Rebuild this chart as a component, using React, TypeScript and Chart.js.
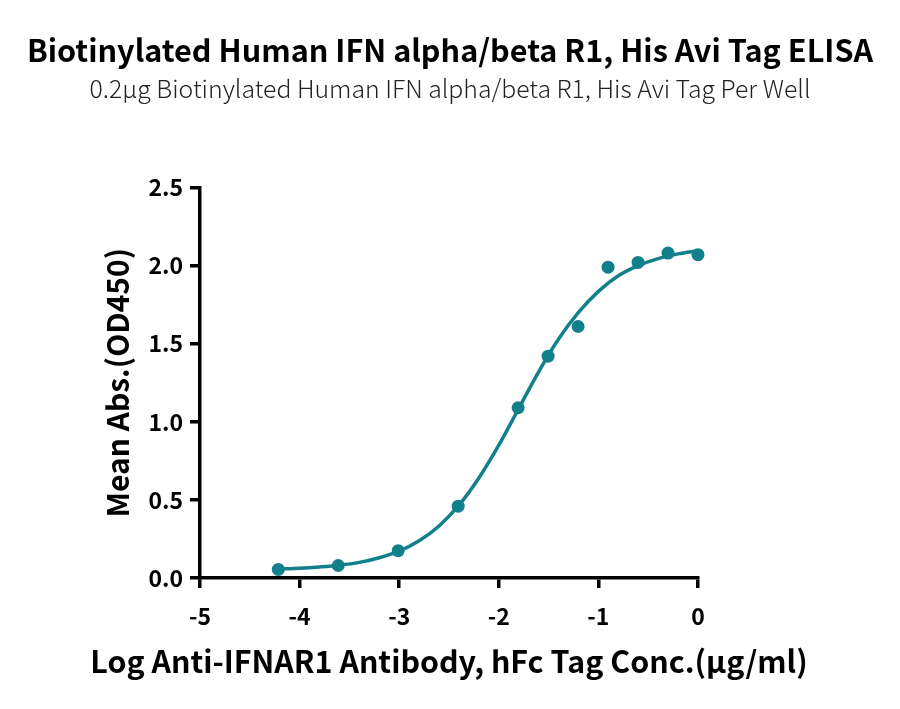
import { useEffect, useRef } from 'react';
import { Chart, registerables, type ChartOptions, type Plugin } from 'chart.js';

Chart.register(...registerables);

// measured points (log conc, OD450)
const logConc = [-4.214, -3.612, -3.01, -2.408, -1.806, -1.505, -1.204, -0.903, -0.602, -0.301, 0];
const meanAbs = [0.055, 0.08, 0.175, 0.46, 1.09, 1.42, 1.61, 1.99, 2.02, 2.08, 2.07];

// fitted curve
const fitX = [-4.214, -4.0, -3.8, -3.6, -3.4, -3.2, -3.0, -2.8, -2.6, -2.4, -2.2, -2.0, -1.8, -1.6, -1.4, -1.2, -1.0, -0.8, -0.6, -0.4, -0.2, 0];
const fitY = [0.058, 0.063, 0.071, 0.082, 0.1, 0.13, 0.172, 0.238, 0.333, 0.466, 0.64, 0.85, 1.085, 1.32, 1.53, 1.7, 1.835, 1.935, 2.0, 2.045, 2.075, 2.095];

const xTicks = [-5, -4, -3, -2, -1, 0];
const yTicks = [0, 0.5, 1.0, 1.5, 2.0, 2.5];

const xTitle = 'Log Anti-IFNAR1 Antibody, hFc Tag Conc.(μg/ml)';

const TEAL = '#12808a';
const FONT = "'Noto Sans CJK SC', 'Noto Sans', sans-serif";

export default function App() {
  const canvasRef = useRef<HTMLCanvasElement | null>(null);

  useEffect(() => {
    if (!canvasRef.current) return;

    // x axis title is wider than the axis itself, so draw it here instead of scale.title
    const xAxisTitle: Plugin<'scatter'> = {
      id: 'xAxisTitle',
      afterDraw: (chart) => {
        const { ctx, chartArea } = chart;
        ctx.save();
        ctx.font = `bold 30.4px ${FONT}`;
        ctx.fillStyle = '#000';
        ctx.textAlign = 'center';
        ctx.textBaseline = 'middle';
        ctx.fillText(xTitle, (chartArea.left + chartArea.right) / 2, 661);
        ctx.restore();
      },
    };

    const options: ChartOptions<'scatter'> = {
      responsive: false,
      animation: false,
      devicePixelRatio: 1,
      layout: { padding: 0 },
      plugins: {
        legend: { display: false },
        tooltip: { enabled: false },
        title: {
          display: true,
          text: 'Biotinylated Human IFN alpha/beta R1, His Avi Tag ELISA',
          color: '#000',
          font: { family: FONT, size: 30.6, weight: 'bold', lineHeight: 1.2 },
          padding: { top: 32, bottom: 0 },
        },
        subtitle: {
          display: true,
          text: '0.2μg Biotinylated Human IFN alpha/beta R1, His Avi Tag Per Well',
          color: '#222',
          font: { family: FONT, size: 24.8, weight: 300, lineHeight: 1.2 },
          padding: { top: 5, bottom: 84 },
        },
      },
      scales: {
        x: {
          type: 'linear',
          min: -5,
          max: 0,
          afterFit: (s) => { s.height = 709 - 578; },
          afterBuildTicks: (s) => { s.ticks = xTicks.map((v) => ({ value: v })); },
          border: { display: true, color: '#000', width: 3.5 },
          grid: { drawOnChartArea: false, drawTicks: true, tickLength: 10, lineWidth: 3.5, color: '#000' },
          ticks: {
            color: '#000',
            padding: 14,
            font: { family: FONT, size: 23, weight: 'bold' },
            callback: (v) => String(v),
          },
        },
        y: {
          type: 'linear',
          min: 0,
          max: 2.5,
          afterFit: (s) => { s.width = 200; },
          afterBuildTicks: (s) => { s.ticks = yTicks.map((v) => ({ value: v })); },
          border: { display: true, color: '#000', width: 3.5 },
          grid: { drawOnChartArea: false, drawTicks: true, tickLength: 10, lineWidth: 3.5, color: '#000' },
          ticks: {
            color: '#000',
            padding: 7,
            font: { family: FONT, size: 23, weight: 'bold' },
            callback: (v) => Number(v).toFixed(1),
          },
          title: {
            display: true,
            text: 'Mean Abs.(OD450)',
            color: '#000',
            font: { family: FONT, size: 30, weight: 'bold', lineHeight: 1.2 },
            padding: { top: 100, bottom: 0 },
          },
        },
        // empty right-hand box that keeps the plot at the reference width
        spacer: {
          type: 'linear',
          position: 'right',
          display: true,
          afterFit: (s) => { s.width = 202; },
          border: { display: false },
          grid: { display: false },
          ticks: { display: false },
        },
      },
    };

    const chart = new Chart(canvasRef.current, {
      type: 'scatter',
      data: {
        datasets: [
          {
            label: 'fit',
            data: fitX.map((x, i) => ({ x, y: fitY[i] })),
            showLine: true,
            borderColor: TEAL,
            borderWidth: 3.5,
            pointRadius: 0,
            cubicInterpolationMode: 'monotone',
            clip: false,
          },
          {
            label: 'data',
            data: logConc.map((x, i) => ({ x, y: meanAbs[i] })),
            showLine: false,
            backgroundColor: TEAL,
            borderColor: TEAL,
            pointRadius: 6.5,
            borderWidth: 0,
            clip: false,
          },
        ],
      },
      options,
      plugins: [xAxisTitle],
    });

    return () => {
      chart.destroy();
    };
  }, []);

  return (
    <div style={{ position: 'absolute', left: 0, top: 0, width: 900, height: 709, background: '#fff' }}>
      <canvas ref={canvasRef} width={900} height={709} />
    </div>
  );
}
